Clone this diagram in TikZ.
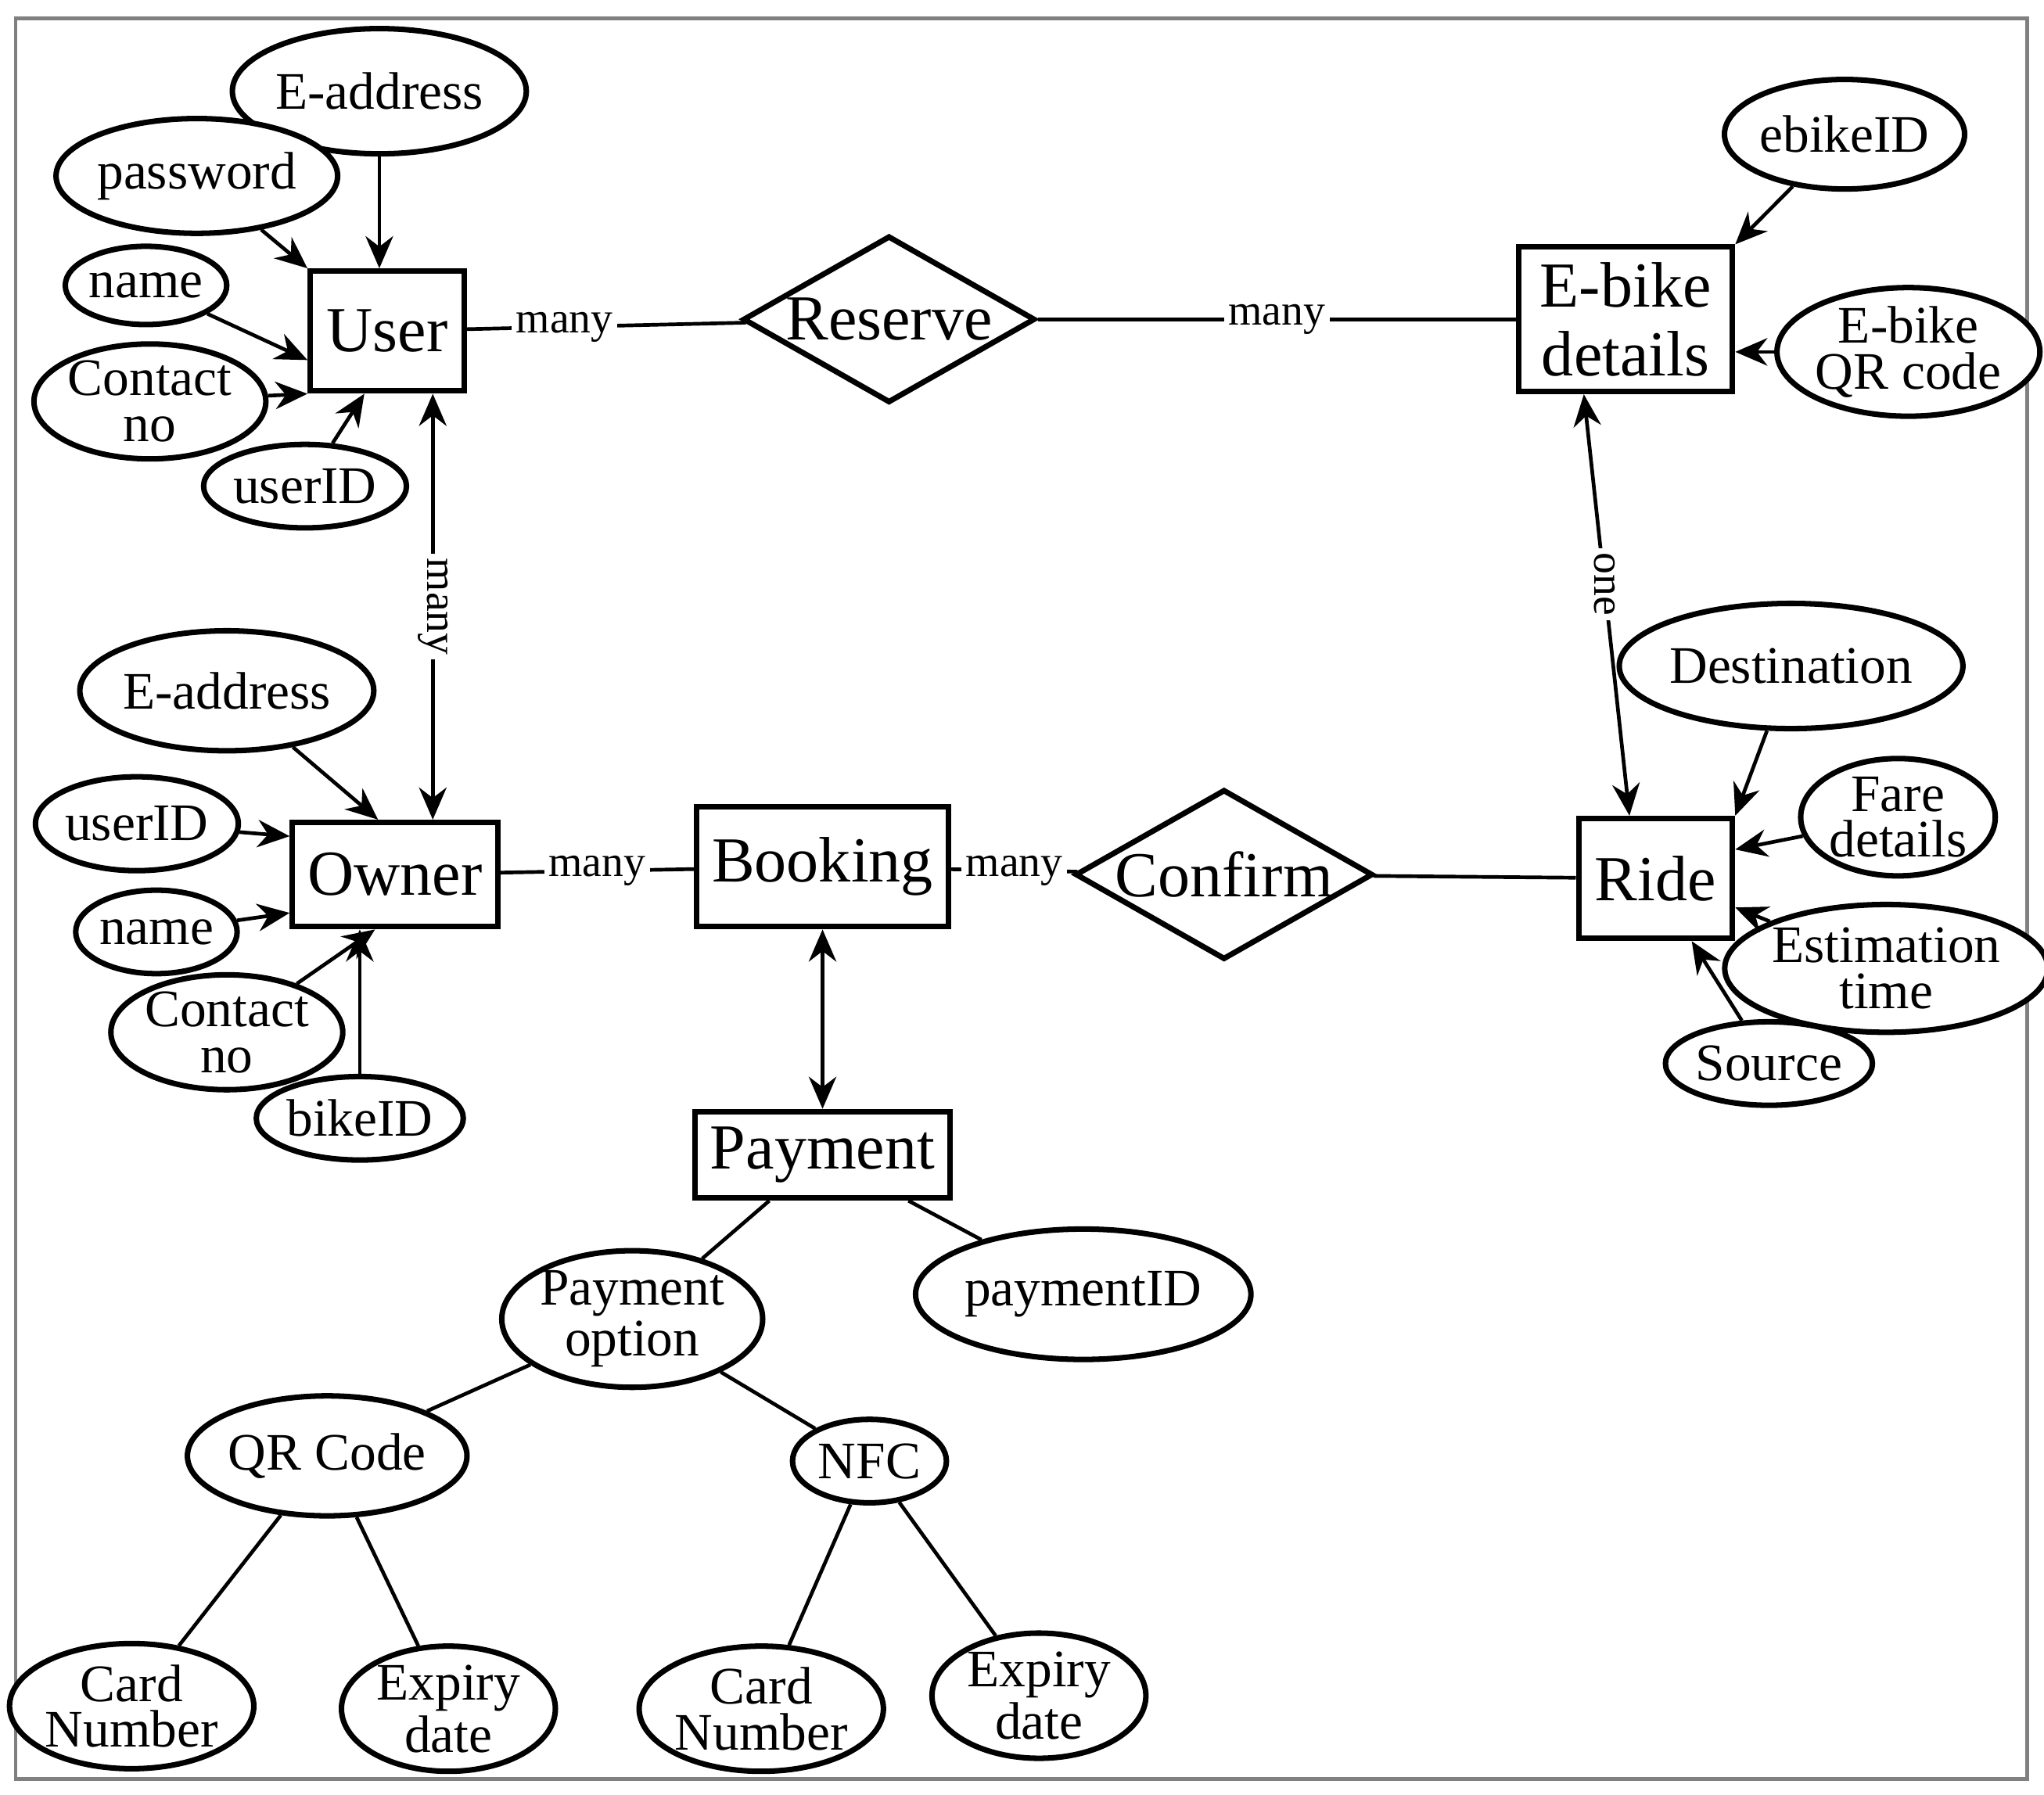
\documentclass[tikz,border=0pt]{standalone}
\usepackage{fontspec}
\setmainfont{Liberation Serif}
\usetikzlibrary{arrows.meta,shapes.geometric}
\begin{document}
\begin{tikzpicture}[x=0.01cm,y=-0.01cm,
        entity/.style={rectangle, draw=black, very thick, fill=white, font=\fontsize{14}{15}\selectfont, align=center},
        relation/.style={diamond, draw=black, very thick, fill=white, font=\fontsize{14}{15}\selectfont, minimum width=2.24cm, minimum height=1.28cm, inner sep=0pt, aspect=1.75},
        attr/.style={ellipse, draw=black, very thick, fill=white, font=\fontsize{11.5}{10}\selectfont, align=center, inner sep=0pt},
        arr/.style={-{Stealth[length=7pt,width=6pt]}, thick},
        darr/.style={{Stealth[length=7pt,width=6pt]}-{Stealth[length=7pt,width=6pt]}, thick},
        card/.style={fill=white, inner sep=1pt, font=\fontsize{9.5}{10}\selectfont},
        ]
        \useasboundingbox (0,0) rectangle (1568,1377);
        \draw[gray, thick] (12,14) rectangle (1555,1365);
        % entities and relations
        \node[entity, minimum width=1.18cm, minimum height=0.92cm] (user) at (297,254) {User};
        \node[relation] (reserve) at (682,245) {Reserve};
        \node[entity, minimum width=1.64cm, minimum height=0.92cm] (ebike) at (1247,245) {E-bike\\details};
        \node[entity, minimum width=1.52cm, minimum height=0.80cm] (owner) at (303,671) {Owner};
        \node[entity, minimum width=1.86cm, minimum height=0.92cm] (booking) at (631,665) {Booking};
        \node[relation] (confirm) at (939,671) {Confirm};
        \node[entity, minimum width=1.18cm, minimum height=0.92cm] (ride) at (1270,674) {Ride};
        \node[entity, minimum width=1.86cm, minimum height=0.66cm] (payment) at (631,886) {Payment};
        % user attributes
        \node[attr, minimum width=1.62cm, minimum height=0.96cm] (uaddr) at (291,70) {E-address};
        \node[attr, minimum width=1.64cm, minimum height=0.88cm] (upass) at (151,135) {password};
        \node[attr, minimum width=1.00cm, minimum height=0.60cm] (uname) at (112,219) {name};
        \node[attr, minimum width=1.36cm, minimum height=0.82cm] (ucont) at (115,308) {Contact\\no};
        \node[attr, minimum width=1.16cm, minimum height=0.64cm] (uid) at (234,373) {userID};
        % e-bike attributes
        \node[attr, minimum width=1.64cm, minimum height=0.84cm] (eid) at (1415,103) {ebikeID};
        \node[attr, minimum width=1.60cm, minimum height=0.96cm] (eqr) at (1464,270) {E-bike\\QR code};
        % ride attributes
        \node[attr, minimum width=1.86cm, minimum height=0.96cm] (rdest) at (1374,511) {Destination};
        \node[attr, minimum width=1.24cm, minimum height=0.90cm] (rfare) at (1456,627) {Fare\\details};
        \node[attr, minimum width=1.76cm, minimum height=0.98cm] (rtime) at (1447,743) {Estimation\\time};
        \node[attr, minimum width=1.18cm, minimum height=0.64cm] (rsrc) at (1357,816) {Source};
        % owner attributes
        \node[attr, minimum width=1.62cm, minimum height=0.92cm] (oaddr) at (174,530) {E-address};
        \node[attr, minimum width=1.36cm, minimum height=0.72cm] (oid) at (105,632) {userID};
        \node[attr, minimum width=1.00cm, minimum height=0.64cm] (oname) at (120,715) {name};
        \node[attr, minimum width=1.36cm, minimum height=0.82cm] (ocont) at (174,792) {Contact\\no};
        \node[attr, minimum width=1.16cm, minimum height=0.64cm] (obike) at (276,858) {bikeID};
        % payment attributes
        \node[attr, minimum width=1.64cm, minimum height=0.88cm] (popt) at (485,1012) {Payment\\option};
        \node[attr, minimum width=1.76cm, minimum height=1.00cm] (pid) at (831,993) {paymentID};
        \node[attr, minimum width=1.64cm, minimum height=0.92cm] (qr) at (251,1117) {QR Code};
        \node[attr, minimum width=1.18cm, minimum height=0.64cm] (nfc) at (667,1121) {NFC};
        \node[attr, minimum width=1.64cm, minimum height=0.96cm] (qrcard) at (101,1309) {Card\\Number};
        \node[attr, minimum width=1.64cm, minimum height=0.96cm] (qrexp) at (344,1311) {Expiry\\date};
        \node[attr, minimum width=1.64cm, minimum height=0.96cm] (nfccard) at (584,1311) {Card\\Number};
        \node[attr, minimum width=1.64cm, minimum height=0.96cm] (nfcexp) at (797,1301) {Expiry\\date};
        % relationships
        \draw[thick] (user) -- node[card, pos=0.35] {many} (reserve);
        \draw[thick] (reserve) -- node[card, pos=0.5] {many} (ebike);
        \draw[thick] (owner) -- node[card, pos=0.5] {many} (booking);
        \draw[thick] (booking) -- node[card, pos=0.5] {many} (confirm);
        \draw[thick] (confirm) -- (ride);
        \draw[darr] (user.south-|332,0) -- node[card, rotate=-90] {many} (owner.north-|332,0);
        \draw[darr] (ebike.south-|1215,0) -- node[card, rotate=-90, pos=0.45] {one} (ride.north-|1250,0);
        \draw[darr] (booking) -- (payment);
        % attribute arrows
        \draw[arr] (uaddr) -- (user.north-|uaddr);
        \draw[arr] (upass) -- (user.north west);
        \draw[arr] (uname) -- (user.200);
        \draw[arr] (ucont) -- (user.south west);
        \draw[arr] (uid) -- (user.250);
        \draw[arr] (eid) -- (ebike.north east);
        \draw[arr] (eqr) -- (ebike.east|-eqr);
        \draw[arr] (rdest) -- (ride.north east);
        \draw[arr] (rfare) -- (ride.20);
        \draw[arr] (rtime) -- (ride.-20);
        \draw[arr] (rsrc) -- (ride.-60);
        \draw[arr] (oaddr) -- (owner.north east-|290,0);
        \draw[arr] (oid) -- (owner.160);
        \draw[arr] (oname) -- (owner.200);
        \draw[arr] (ocont) -- (owner.250);
        \draw[arr] (obike) -- (owner.south-|obike);
        % payment tree
        \draw[thick] (payment) -- (popt);
        \draw[thick] (payment) -- (pid);
        \draw[thick] (popt) -- (qr);
        \draw[thick] (popt) -- (nfc);
        \draw[thick] (qr) -- (qrcard);
        \draw[thick] (qr) -- (qrexp);
        \draw[thick] (nfc) -- (nfccard);
        \draw[thick] (nfc) -- (nfcexp);
\end{tikzpicture}
\end{document}
